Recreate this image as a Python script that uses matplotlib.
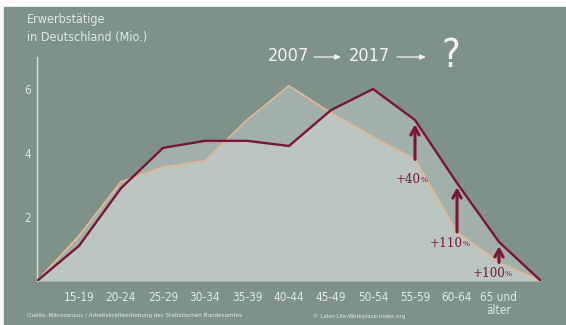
import matplotlib
matplotlib.use('Agg')
import matplotlib.pyplot as plt
from matplotlib.patches import Rectangle
#
ages = ['15-19', '20-24', '25-29', '30-34', '35-39', '40-44',
        '45-49', '50-54', '55-59', '60-64', '65 und\nälter']
erw_2007 = [1.41, 3.10, 3.56, 3.75, 5.03, 6.10, 5.25, 4.50, 3.80, 1.53, 0.58]
erw_2017 = [1.10, 2.90, 4.16, 4.38, 4.38, 4.22, 5.34, 6.00, 5.03, 3.06, 1.22]
yticks = [2, 4, 6]
growth_idx = [9, 10, 11]
growth_lbl = ['+40', '+110', '+100']
#
BG = '#7e928a'
LIGHT = '#e2e8e4'
MAROON = '#7a1636'
PEACH = '#e4b795'
NARROW = dict(family='DejaVu Sans', stretch='condensed')
SERIF = dict(family='DejaVu Serif', stretch='condensed')
W, H = 566, 325
#
fig = plt.figure(figsize=(W / 100, H / 100), dpi=100, facecolor='white')
fig.patches.append(Rectangle((4 / W, 0), 1, (H - 7) / H, transform=fig.transFigure,
                             color=BG, zorder=-10))
#
ax = fig.add_axes([37 / W, 44 / H, 504 / W, 224 / H])
ax.patch.set_visible(False)
#
# pad the curves with a zero at both ends
x = list(range(len(ages) + 2))
y07 = [0] + erw_2007 + [0]
y17 = [0] + erw_2017 + [0]
#
ax.fill_between(x, 0, y07, color='white', alpha=0.28, lw=0, zorder=1)
ax.fill_between(x, 0, y17, color='white', alpha=0.28, lw=0, zorder=1)
ax.plot(x, y07, color=PEACH, lw=1.3, zorder=2, solid_joinstyle='round')
ax.plot(x, y17, color=MAROON, lw=1.7, zorder=3, solid_joinstyle='miter')
#
ax.set_xlim(0, len(x) - 1)
ax.set_ylim(0, 7)
for s in ['top', 'right', 'bottom']:
    ax.spines[s].set_visible(False)
ax.spines['left'].set_color('#d6ddd9')
ax.spines['left'].set_linewidth(1.0)
#
ax.set_xticks(range(1, len(ages) + 1))
ax.set_xticklabels(ages, fontsize=8.5, color=LIGHT, linespacing=1.0, **NARROW)
ax.set_yticks(yticks)
ax.set_yticklabels([str(v) for v in yticks], fontsize=8.5, color=LIGHT, **NARROW)
ax.tick_params(axis='x', length=0, pad=7)
ax.tick_params(axis='y', length=0, pad=4.5)
#
# growth arrows 2007 -> 2017
lbl_dy = [-20, -11, -11]
for k, i in enumerate(growth_idx):
    v0, v1 = erw_2007[i - 1], erw_2017[i - 1]
    ax.annotate('', xy=(i, v1), xytext=(i, v0),
                arrowprops=dict(arrowstyle='->,head_length=0.55,head_width=0.3',
                                color=MAROON, lw=2.2, shrinkA=0, shrinkB=3), zorder=4)
    ax.annotate(growth_lbl[k], xy=(i, v0), xytext=(6, lbl_dy[k]), textcoords='offset pixels',
                ha='right', va='center', fontsize=9.5, color=MAROON, zorder=5, **SERIF)
    ax.annotate('%', xy=(i, v0), xytext=(6, lbl_dy[k] - 1), textcoords='offset pixels',
                ha='left', va='center', fontsize=6, color=MAROON, zorder=5, **SERIF)
#
# y label
fig.text(27 / W, (H - 19) / H, 'Erwerbstätige', fontsize=9, color=LIGHT,
         ha='left', va='center', **NARROW)
fig.text(27 / W, (H - 37) / H, 'in Deutschland (Mio.)', fontsize=9, color=LIGHT,
         ha='left', va='center', **NARROW)
#
# headline
fig.text(289 / W, (H - 56) / H, '2007', fontsize=13, color='#f2f4f2',
         ha='center', va='center', **NARROW)
fig.text(369 / W, (H - 56) / H, '2017', fontsize=13, color='#f2f4f2',
         ha='center', va='center', **NARROW)
fig.text(451 / W, (H - 56) / H, '?', fontsize=28, color='#f2f4f2',
         ha='center', va='center', **NARROW)
for x0, x1 in [(314, 341), (397, 426)]:
    ax.annotate('', xy=(x1, H - 57), xytext=(x0, H - 57), xycoords='figure pixels',
                textcoords='figure pixels', annotation_clip=False,
                arrowprops=dict(arrowstyle='-|>,head_length=0.35,head_width=0.15',
                                color='#f2f4f2', lw=0.9, shrinkA=0, shrinkB=0))
#
# sources
fig.text(27 / W, (H - 316) / H,
         'Quelle: Mikrozensus / Arbeitskräfteerhebung des Statistischen Bundesamtes',
         fontsize=4.5, color=LIGHT, ha='left', va='center', **NARROW)
fig.text(313 / W, (H - 316) / H, '© Later-Life-Workplace-Index.org',
         fontsize=4.5, color=LIGHT, ha='left', va='center', **NARROW)
#
fig.savefig('out.png', dpi=100, facecolor='white')
